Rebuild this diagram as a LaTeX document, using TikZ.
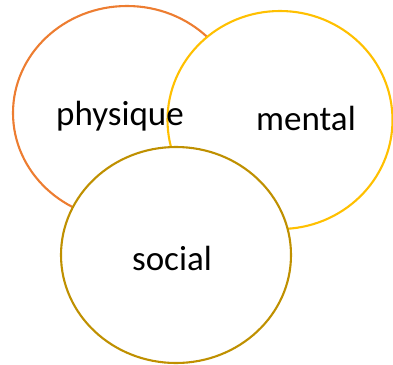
\documentclass[tikz,border=0pt]{standalone}
\usepackage{fontspec}
\setmainfont{Carlito}
\usetikzlibrary{shapes.geometric}
\begin{document}
\begin{tikzpicture}[x=1pt,y=-1pt,
  ring/.style={ellipse,draw,fill=white,line width=2.1pt,inner sep=0pt},
  lbl/.style={anchor=base,inner sep=0pt,font=\fontsize{35}{40}\selectfont}]
  \definecolor{physc}{HTML}{ED7D31}
  \definecolor{mentc}{HTML}{FFC000}
  \definecolor{socc}{HTML}{BF9000}
  \useasboundingbox (0,0) rectangle (393,364);
  \node [ring,draw=physc,minimum width=228pt,minimum height=214pt] (phys) at (127,113) {};
  \node [ring,draw=mentc,minimum width=225pt,minimum height=218pt] (ment) at (280,120) {};
  \node [lbl] (physl) at (120,125) {physique};
  \node [lbl] (mentl) at (306,130) {mental};
  \node [ring,draw=socc,minimum width=230pt,minimum height=216pt] (soc) at (176,255) {};
  \node [lbl] (socl) at (172,270) {social};
\end{tikzpicture}
\end{document}
